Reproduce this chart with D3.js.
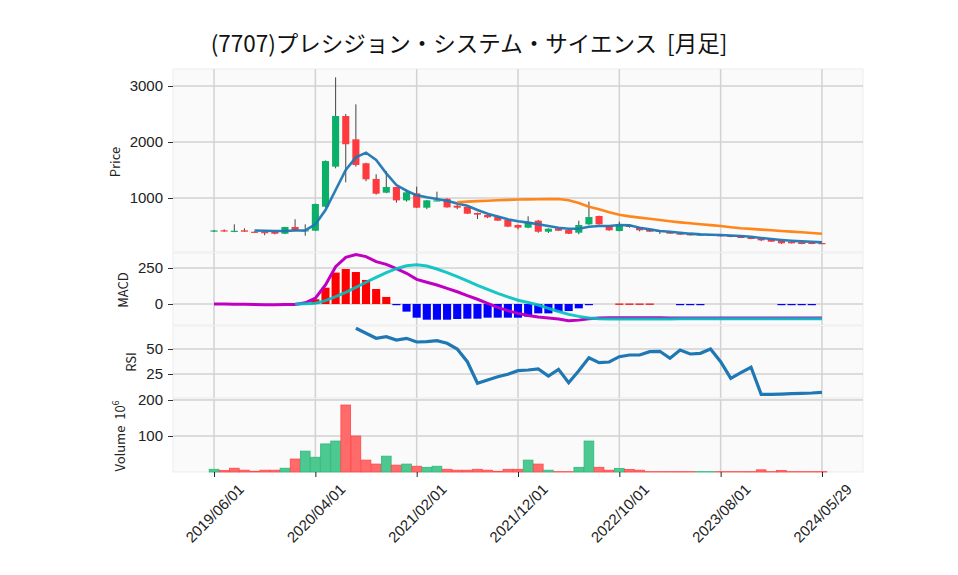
<!DOCTYPE html>
<html>
<head>
<meta charset="utf-8">
<script src="https://cdn.jsdelivr.net/npm/d3@7"></script>
<style>
  body { margin: 0; background: #fff; }
  svg { display: block; font-family: "Noto Sans CJK JP", "Noto Sans", sans-serif; }
</style>
</head>
<body>
<svg width="958" height="575"></svg>
<script>
// monthly bars, index 0 = 2019/06
var tickIdx = [0, 10, 20, 30, 40, 50, 60];
var tickLabels = ['2019/06/01', '2020/04/01', '2021/02/01', '2021/12/01', '2022/10/01', '2023/08/01', '2024/05/29'];

var open = [405, 423, 400, 423, 398, 392, 393, 362, 482, 415,
  416, 845, 1560, 2464, 2048, 1620, 1340, 1095, 1196, 958,
  1083, 827, 955, 988, 862, 840, 732, 696, 660, 607,
  518, 470, 595, 398, 458, 428, 380, 530, 678, 500,
  410, 518, 476, 440, 416, 393, 370, 357, 333, 340,
  340, 327, 321, 298, 273, 262, 232, 214, 208, 202, 196];
var high = [430, 440, 530, 459, 405, 400, 395, 485, 620, 530,
  900, 1670, 3155, 2500, 2673, 1630, 1423, 1482, 1200, 1150,
  1202, 965, 1113, 995, 885, 845, 740, 705, 665, 610,
  525, 673, 610, 460, 462, 432, 595, 935, 685, 505,
  577, 520, 480, 445, 420, 395, 372, 360, 355, 353,
  345, 330, 325, 300, 276, 264, 235, 216, 210, 204, 198];
var low = [395, 395, 390, 395, 375, 335, 350, 355, 420, 327,
  410, 830, 1530, 1280, 1560, 1300, 1060, 1085, 917, 935,
  820, 800, 950, 827, 800, 715, 625, 640, 590, 480,
  440, 460, 380, 375, 410, 355, 352, 520, 525, 415,
  405, 470, 405, 395, 357, 360, 340, 330, 330, 338,
  312, 300, 283, 265, 230, 218, 180, 188, 176, 176, 176];
var close = [420, 405, 415, 398, 380, 380, 362, 482, 428, 425,
  893, 1660, 2464, 1960, 1590, 1334, 1077, 1196, 958, 1101,
  827, 958, 958, 833, 827, 720, 702, 655, 595, 488,
  470, 566, 398, 452, 416, 362, 518, 660, 530, 423,
  505, 482, 423, 398, 398, 363, 345, 333, 351, 351,
  316, 304, 286, 268, 244, 220, 191, 191, 178, 178, 180];

var ma5 = [null, null, null, null, 420, 416, 410, 410, 420, 420,
  530, 786, 1143, 1500, 1726, 1810, 1680, 1440, 1232, 1130,
  1048, 1012, 982, 952, 900, 860, 786, 720, 670, 620,
  585, 560, 530, 500, 470, 452, 452, 488, 500, 500,
  518, 512, 470, 440, 410, 398, 380, 363, 351, 345,
  338, 330, 322, 308, 286, 268, 250, 236, 225, 218, 208];
var ma25 = [null, null, null, null, null, null, null, null, null, null,
  null, null, null, null, null, null, null, null, null, null,
  null, null, null, null, 923, 935, 945, 952, 960, 966,
  972, 976, 978, 980, 982, 960, 910, 845, 800, 745,
  700, 672, 650, 628, 607, 586, 565, 548, 530, 515,
  500, 478, 460, 448, 436, 424, 412, 400, 388, 376, 363];

var macd = [0, 0, -1, -2, -3, -5, -6, -4, -3, 8,
  40, 132, 259, 324, 343, 329, 294, 275, 245, 213,
  171, 151, 132, 109, 85, 58, 33, 5, -23, -46,
  -65, -80, -90, -97, -104, -116, -112, -103, -98, -96,
  -95, -95, -96, -96, -96, -97, -97, -97, -97, -97,
  -97, -97, -97, -97, -97, -97, -97, -97, -97, -97, -97];
var signal = [null, null, null, null, null, null, null, null, 0, 2,
  5, 23, 51, 81, 116, 151, 185, 218, 245, 266,
  273, 264, 243, 218, 190, 160, 130, 102, 74, 49,
  26, 10, -7, -30, -52, -72, -86, -97, -102, -104,
  -104, -104, -104, -104, -104, -104, -103, -103, -103, -103,
  -103, -103, -103, -102, -102, -102, -102, -102, -102, -102, -102];
var hist = [0, 0, 0, 0, 0, 0, 0, 0, 0, 0,
  33, 113, 218, 243, 222, 167, 104, 49, -7, -53,
  -95, -109, -109, -109, -104, -102, -102, -95, -95, -95,
  -95, -88, -65, -65, -53, -49, -30, -7, 0, 0,
  3, 3, 3, 3, 0, 0, -2, -2, -2, 0,
  0, 0, 0, 0, 0, 0, -2, -2, -2, -2, 0];

var rsi = [null, null, null, null, null, null, null, null, null, null,
  null, null, null, null, 70.7, 65.7, 60.7, 62.3, 59, 60.7,
  57, 57.3, 58.3, 55.7, 50, 37.3, 15.7, 19, 22.3, 24.7,
  28.3, 29, 30, 23, 29.7, 16.3, 28.3, 41.3, 36.3, 37,
  42.3, 44, 44, 47.3, 47.7, 40.7, 49, 45, 45.7, 50,
  37.3, 20.7, 26.3, 31.7, 4.7, 4.7, 4.9, 5.3, 5.7, 6, 6.7];

var volume = [7.5, 4, 10.5, 5, 2, 5, 5, 10.5, 36, 58,
  41, 78, 86, 186, 100, 33, 22, 44, 19, 22,
  16, 13, 16, 7.5, 5, 5, 7.5, 5, 2, 7.5,
  7.5, 33, 22, 5, 1, 1, 13, 86, 13, 5,
  10, 7, 5, 1, 1, 1, 1, 1, 1, 1,
  1, 1, 1, 1, 6, 1, 4, 1, 1, 1, 1];
var volUp = 'gr' + 'rrrrrg' + 'rgggg' + 'rrrrgrgrgg' + 'rrrrrrrr' + 'grgrrggrrg' + 'rrrrrrrggrrrrrrrrrrrr';

var svg = d3.select('svg');
var up = '#0ab068', down = '#fe3a3e';
var gridColor = '#d2d2d2';

var x = d3.scaleLinear().domain([-4.05, 64.05]).range([173, 863]);
var step = x(1) - x(0);

var panels = [
  { name: 'price', top: 69, bottom: 252, y: d3.scaleLinear().domain([0, 3000]).range([254, 86]), ticks: [1000, 2000, 3000] },
  { name: 'macd', top: 253, bottom: 325, y: d3.scaleLinear().domain([0, 250]).range([304, 268]), ticks: [0, 250] },
  { name: 'rsi', top: 326, bottom: 398, y: d3.scaleLinear().domain([25, 50]).range([374, 349]), ticks: [25, 50] },
  { name: 'vol', top: 399, bottom: 472, y: d3.scaleLinear().domain([0, 100]).range([472, 436]), ticks: [100, 200] }
];

panels.forEach(function(p) {
  svg.append('rect').attr('x', 173).attr('y', p.top).attr('width', 690).attr('height', p.bottom - p.top)
    .attr('fill', '#fafafa').attr('stroke', '#ededed').attr('stroke-width', 1);
  var g = svg.append('g');
  g.selectAll('.vg').data(tickIdx).enter().append('line')
    .attr('x1', function(d) { return x(d); }).attr('x2', function(d) { return x(d); })
    .attr('y1', p.top).attr('y2', p.bottom)
    .attr('stroke', gridColor).attr('stroke-width', 1.5);
  g.selectAll('.hg').data(p.ticks).enter().append('line')
    .attr('x1', 173).attr('x2', 863)
    .attr('y1', function(d) { return p.y(d); }).attr('y2', function(d) { return p.y(d); })
    .attr('stroke', gridColor).attr('stroke-width', 1.5);
  var ax = svg.append('g').attr('transform', 'translate(173,0)')
    .call(d3.axisLeft(p.y).tickValues(p.ticks).tickSize(5).tickPadding(5).tickFormat(d3.format('d')));
  ax.select('.domain').remove();
  ax.selectAll('line').attr('stroke', '#333');
  ax.selectAll('text').style('font-size', '15px').attr('fill', '#222');
  p.g = svg.append('g');
});

var price = panels[0], pm = panels[1], pr = panels[2], pv = panels[3];
var idx = d3.range(open.length);

// candles
var cg = price.g;
cg.selectAll('.wick').data(idx).enter().append('line')
  .attr('x1', function(i) { return x(i); }).attr('x2', function(i) { return x(i); })
  .attr('y1', function(i) { return price.y(high[i]); }).attr('y2', function(i) { return price.y(low[i]); })
  .attr('stroke', '#444').attr('stroke-width', 1);
cg.selectAll('.body').data(idx).enter().append('rect')
  .attr('x', function(i) { return x(i) - step * 0.35; })
  .attr('width', step * 0.7)
  .attr('y', function(i) { return price.y(Math.max(open[i], close[i])); })
  .attr('height', function(i) { return Math.max(1.2, Math.abs(price.y(open[i]) - price.y(close[i]))); })
  .attr('fill', function(i) { return close[i] >= open[i] ? up : down; });

function lineOf(yScale, arr) {
  return d3.line().defined(function(i) { return arr[i] != null; })
    .x(function(i) { return x(i); }).y(function(i) { return yScale(arr[i]); })(idx);
}
cg.append('path').attr('d', lineOf(price.y, ma5)).attr('fill', 'none')
  .attr('stroke', '#1f77b4').attr('stroke-width', 2.6).attr('stroke-opacity', 0.95);
cg.append('path').attr('d', lineOf(price.y, ma25)).attr('fill', 'none')
  .attr('stroke', '#ff7f0e').attr('stroke-width', 2.6).attr('stroke-opacity', 0.95);

// MACD
pm.g.selectAll('.hb').data(idx.filter(function(i) { return hist[i] !== 0; })).enter().append('rect')
  .attr('x', function(i) { return x(i) - step * 0.4; })
  .attr('width', step * 0.8)
  .attr('y', function(i) { return Math.min(pm.y(0), pm.y(hist[i])); })
  .attr('height', function(i) { return Math.max(1.2, Math.abs(pm.y(hist[i]) - pm.y(0))); })
  .attr('fill', function(i) { return hist[i] > 0 ? '#ff0000' : '#0000ff'; });
pm.g.append('path').attr('d', lineOf(pm.y, macd)).attr('fill', 'none')
  .attr('stroke', '#c000c0').attr('stroke-width', 3);
pm.g.append('path').attr('d', lineOf(pm.y, signal)).attr('fill', 'none')
  .attr('stroke', '#00c0c0').attr('stroke-width', 3).attr('stroke-opacity', 0.9);

// RSI
pr.g.append('path').attr('d', lineOf(pr.y, rsi)).attr('fill', 'none')
  .attr('stroke', '#1f77b4').attr('stroke-width', 3.2).attr('stroke-linejoin', 'miter');

// volume
pv.g.selectAll('.vb').data(idx).enter().append('rect')
  .attr('x', function(i) { return x(i) - step * 0.48; })
  .attr('width', step * 0.96)
  .attr('y', function(i) { return pv.y(volume[i]); })
  .attr('height', function(i) { return pv.y(0) - pv.y(volume[i]); })
  .attr('fill', function(i) { return volUp[i] === 'g' ? '#4cc890' : '#ff6a6a'; })
  .attr('stroke', function(i) { return volUp[i] === 'g' ? '#2fb97c' : '#ff4848'; })
  .attr('stroke-width', 0.8);

// x axis
var xa = svg.append('g').attr('transform', 'translate(0,472)')
  .call(d3.axisBottom(x).tickValues(tickIdx).tickSize(5).tickFormat(function(d, k) { return tickLabels[k]; }));
xa.select('.domain').remove();
xa.selectAll('line').attr('stroke', '#222');
xa.selectAll('text').attr('y', 0).attr('dy', 0).style('font-size', '15px').attr('fill', '#222')
  .attr('text-anchor', 'middle').attr('dominant-baseline', 'central')
  .attr('transform', 'translate(0,41) rotate(-45)');

// axis titles
function ylab(txt, xp, yp) {
  return svg.append('text').attr('transform', 'translate(' + xp + ',' + yp + ') rotate(-90)')
    .attr('text-anchor', 'middle').attr('font-size', 13).attr('fill', '#222').text(txt);
}
ylab('Price', 120, 162);
ylab('MACD', 128, 290);
ylab('RSI', 136, 362);
var vl = svg.append('text').attr('transform', 'translate(125,436) rotate(-90)')
  .attr('text-anchor', 'middle').attr('font-size', 13).attr('fill', '#222');
vl.append('tspan').text('Volume\u00a0\u00a010');
vl.append('tspan').attr('font-size', 9).attr('dy', -6).text('6');

svg.append('text').attr('x', 469).attr('y', 52).attr('text-anchor', 'middle')
  .attr('font-size', 22.5).attr('fill', '#111')
  .text('(7707)プレシジョン・システム・サイエンス\u00a0\u00a0[月足]');
</script>
</body>
</html>
